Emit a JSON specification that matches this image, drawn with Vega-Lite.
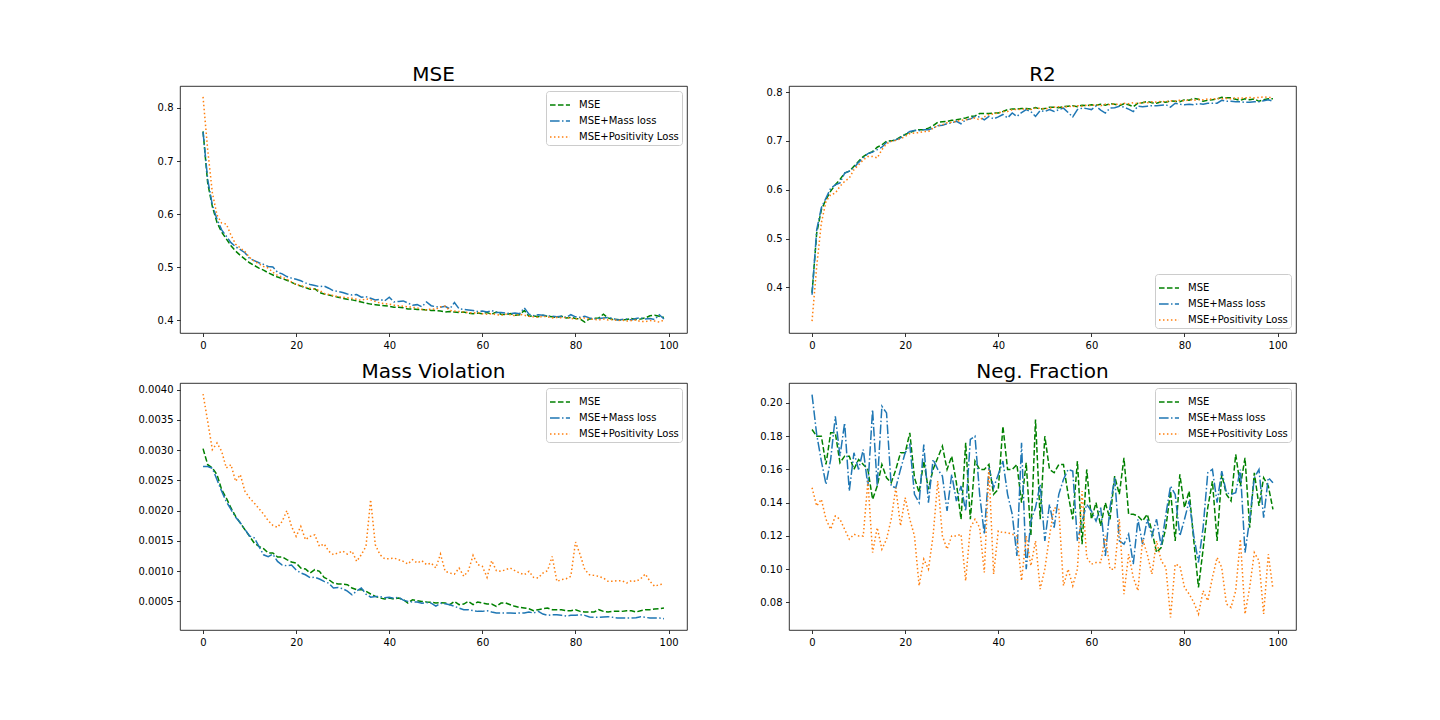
{
  "$schema": "https://vega.github.io/schema/vega-lite/v6.json",
  "background": "white",
  "padding": {"left": 137, "top": 64, "right": 10, "bottom": 10},
  "config": {
    "font": "DejaVu Sans",
    "view": {"stroke": "black", "strokeWidth": 0.8},
    "axis": {"domain": false, "grid": false, "tickColor": "black", "tickSize": 3.5, "tickWidth": 0.8, "labelFont": "DejaVu Sans", "labelFontSize": 10, "labelColor": "black", "labelPadding": 3.5, "labelFlush": false, "labelOverlap": false},
    "title": {"font": "DejaVu Sans", "fontSize": 20, "fontWeight": "normal", "color": "black", "offset": 1, "baseline": "alphabetic", "anchor": "middle"},
    "legend": {"labelFont": "DejaVu Sans", "labelFontSize": 10, "labelColor": "black", "symbolType": "stroke", "symbolSize": 400, "symbolStrokeWidth": 1.5, "labelOffset": 8, "rowPadding": -2, "padding": 3, "fillColor": "white", "strokeColor": "#cccccc", "cornerRadius": 3, "offset": 5}
  },
  "datasets": {
    "mse": [
      {"x":0,"mse":0.756,"mass":0.755,"pos":0.821},{"x":1,"mse":0.658,"mass":0.665,"pos":0.721},{"x":2,"mse":0.614,"mass":0.617,"pos":0.640},{"x":3,"mse":0.584,"mass":0.590,"pos":0.598},{"x":4,"mse":0.566,"mass":0.570,"pos":0.583},
      {"x":5,"mse":0.553,"mass":0.558,"pos":0.581},{"x":6,"mse":0.540,"mass":0.546,"pos":0.560},{"x":7,"mse":0.530,"mass":0.538,"pos":0.543},{"x":8,"mse":0.522,"mass":0.533,"pos":0.536},{"x":9,"mse":0.515,"mass":0.527,"pos":0.529},
      {"x":10,"mse":0.508,"mass":0.516,"pos":0.518},{"x":11,"mse":0.503,"mass":0.512,"pos":0.511},{"x":12,"mse":0.498,"mass":0.508,"pos":0.506},{"x":13,"mse":0.494,"mass":0.505,"pos":0.501},{"x":14,"mse":0.489,"mass":0.501,"pos":0.498},
      {"x":15,"mse":0.485,"mass":0.500,"pos":0.490},{"x":16,"mse":0.481,"mass":0.490,"pos":0.484},{"x":17,"mse":0.478,"mass":0.487,"pos":0.481},{"x":18,"mse":0.475,"mass":0.482,"pos":0.477},{"x":19,"mse":0.471,"mass":0.479,"pos":0.472},
      {"x":20,"mse":0.467,"mass":0.477,"pos":0.467},{"x":21,"mse":0.464,"mass":0.474,"pos":0.465},{"x":22,"mse":0.461,"mass":0.470,"pos":0.462},{"x":23,"mse":0.458,"mass":0.467,"pos":0.460},{"x":24,"mse":0.459,"mass":0.465,"pos":0.458},
      {"x":25,"mse":0.452,"mass":0.463,"pos":0.456},{"x":26,"mse":0.449,"mass":0.464,"pos":0.450},{"x":27,"mse":0.447,"mass":0.460,"pos":0.448},{"x":28,"mse":0.445,"mass":0.455,"pos":0.446},{"x":29,"mse":0.443,"mass":0.454,"pos":0.444},
      {"x":30,"mse":0.441,"mass":0.452,"pos":0.443},{"x":31,"mse":0.439,"mass":0.449,"pos":0.442},{"x":32,"mse":0.438,"mass":0.447,"pos":0.441},{"x":33,"mse":0.436,"mass":0.448,"pos":0.439},{"x":34,"mse":0.434,"mass":0.443,"pos":0.437},
      {"x":35,"mse":0.432,"mass":0.444,"pos":0.440},{"x":36,"mse":0.430,"mass":0.441,"pos":0.438},{"x":37,"mse":0.429,"mass":0.438,"pos":0.435},{"x":38,"mse":0.428,"mass":0.439,"pos":0.432},{"x":39,"mse":0.427,"mass":0.436,"pos":0.431},
      {"x":40,"mse":0.426,"mass":0.443,"pos":0.430},{"x":41,"mse":0.424,"mass":0.434,"pos":0.428},{"x":42,"mse":0.424,"mass":0.435,"pos":0.427},{"x":43,"mse":0.423,"mass":0.436,"pos":0.426},{"x":44,"mse":0.421,"mass":0.432,"pos":0.425},
      {"x":45,"mse":0.421,"mass":0.428,"pos":0.424},{"x":46,"mse":0.420,"mass":0.429,"pos":0.423},{"x":47,"mse":0.420,"mass":0.425,"pos":0.420},{"x":48,"mse":0.419,"mass":0.434,"pos":0.419},{"x":49,"mse":0.418,"mass":0.427,"pos":0.421},
      {"x":50,"mse":0.418,"mass":0.425,"pos":0.420},{"x":51,"mse":0.417,"mass":0.424,"pos":0.425},{"x":52,"mse":0.415,"mass":0.426,"pos":0.426},{"x":53,"mse":0.416,"mass":0.421,"pos":0.418},{"x":54,"mse":0.415,"mass":0.433,"pos":0.417},
      {"x":55,"mse":0.414,"mass":0.421,"pos":0.416},{"x":56,"mse":0.415,"mass":0.420,"pos":0.415},{"x":57,"mse":0.413,"mass":0.419,"pos":0.414},{"x":58,"mse":0.412,"mass":0.418,"pos":0.413},{"x":59,"mse":0.413,"mass":0.416,"pos":0.414},
      {"x":60,"mse":0.412,"mass":0.417,"pos":0.412},{"x":61,"mse":0.414,"mass":0.415,"pos":0.411},{"x":62,"mse":0.411,"mass":0.418,"pos":0.412},{"x":63,"mse":0.415,"mass":0.414,"pos":0.410},{"x":64,"mse":0.411,"mass":0.414,"pos":0.409},
      {"x":65,"mse":0.410,"mass":0.413,"pos":0.411},{"x":66,"mse":0.412,"mass":0.412,"pos":0.410},{"x":67,"mse":0.409,"mass":0.413,"pos":0.408},{"x":68,"mse":0.410,"mass":0.412,"pos":0.411},{"x":69,"mse":0.418,"mass":0.423,"pos":0.409},
      {"x":70,"mse":0.407,"mass":0.411,"pos":0.407},{"x":71,"mse":0.408,"mass":0.408,"pos":0.406},{"x":72,"mse":0.406,"mass":0.410,"pos":0.405},{"x":73,"mse":0.409,"mass":0.409,"pos":0.407},{"x":74,"mse":0.407,"mass":0.408,"pos":0.406},
      {"x":75,"mse":0.406,"mass":0.407,"pos":0.404},{"x":76,"mse":0.405,"mass":0.406,"pos":0.405},{"x":77,"mse":0.407,"mass":0.407,"pos":0.404},{"x":78,"mse":0.404,"mass":0.405,"pos":0.405},{"x":79,"mse":0.405,"mass":0.410,"pos":0.403},
      {"x":80,"mse":0.403,"mass":0.406,"pos":0.402},{"x":81,"mse":0.402,"mass":0.405,"pos":0.403},{"x":82,"mse":0.396,"mass":0.407,"pos":0.404},{"x":83,"mse":0.402,"mass":0.404,"pos":0.402},{"x":84,"mse":0.403,"mass":0.402,"pos":0.401},
      {"x":85,"mse":0.404,"mass":0.403,"pos":0.400},{"x":86,"mse":0.411,"mass":0.404,"pos":0.402},{"x":87,"mse":0.404,"mass":0.405,"pos":0.400},{"x":88,"mse":0.401,"mass":0.403,"pos":0.401},{"x":89,"mse":0.401,"mass":0.400,"pos":0.399},
      {"x":90,"mse":0.400,"mass":0.401,"pos":0.400},{"x":91,"mse":0.401,"mass":0.402,"pos":0.398},{"x":92,"mse":0.403,"mass":0.400,"pos":0.399},{"x":93,"mse":0.401,"mass":0.403,"pos":0.400},{"x":94,"mse":0.402,"mass":0.404,"pos":0.397},
      {"x":95,"mse":0.404,"mass":0.402,"pos":0.397},{"x":96,"mse":0.408,"mass":0.403,"pos":0.399},{"x":97,"mse":0.409,"mass":0.401,"pos":0.398},{"x":98,"mse":0.407,"mass":0.410,"pos":0.396},{"x":99,"mse":0.405,"mass":0.402,"pos":0.400}
    ],
    "r2": [
      {"x":0,"mse":0.389,"mass":0.385,"pos":0.331},{"x":1,"mse":0.511,"mass":0.518,"pos":0.443},{"x":2,"mse":0.559,"mass":0.563,"pos":0.532},{"x":3,"mse":0.580,"mass":0.583,"pos":0.576},{"x":4,"mse":0.597,"mass":0.603,"pos":0.590},
      {"x":5,"mse":0.610,"mass":0.610,"pos":0.593},{"x":6,"mse":0.621,"mass":0.614,"pos":0.607},{"x":7,"mse":0.634,"mass":0.634,"pos":0.617},{"x":8,"mse":0.638,"mass":0.638,"pos":0.624},{"x":9,"mse":0.648,"mass":0.645,"pos":0.641},
      {"x":10,"mse":0.658,"mass":0.656,"pos":0.651},{"x":11,"mse":0.668,"mass":0.665,"pos":0.661},{"x":12,"mse":0.674,"mass":0.674,"pos":0.668},{"x":13,"mse":0.678,"mass":0.677,"pos":0.668},{"x":14,"mse":0.687,"mass":0.682,"pos":0.665},
      {"x":15,"mse":0.692,"mass":0.687,"pos":0.682},{"x":16,"mse":0.699,"mass":0.697,"pos":0.694},{"x":17,"mse":0.700,"mass":0.699,"pos":0.699},{"x":18,"mse":0.702,"mass":0.702,"pos":0.701},{"x":19,"mse":0.708,"mass":0.706,"pos":0.704},
      {"x":20,"mse":0.713,"mass":0.713,"pos":0.709},{"x":21,"mse":0.717,"mass":0.719,"pos":0.715},{"x":22,"mse":0.721,"mass":0.721,"pos":0.716},{"x":23,"mse":0.723,"mass":0.721,"pos":0.717},{"x":24,"mse":0.723,"mass":0.723,"pos":0.719},
      {"x":25,"mse":0.726,"mass":0.723,"pos":0.719},{"x":26,"mse":0.731,"mass":0.726,"pos":0.726},{"x":27,"mse":0.738,"mass":0.731,"pos":0.731},{"x":28,"mse":0.739,"mass":0.732,"pos":0.733},{"x":29,"mse":0.740,"mass":0.735,"pos":0.737},
      {"x":30,"mse":0.742,"mass":0.737,"pos":0.738},{"x":31,"mse":0.743,"mass":0.740,"pos":0.740},{"x":32,"mse":0.745,"mass":0.735,"pos":0.742},{"x":33,"mse":0.747,"mass":0.743,"pos":0.743},{"x":34,"mse":0.750,"mass":0.745,"pos":0.745},
      {"x":35,"mse":0.751,"mass":0.750,"pos":0.747},{"x":36,"mse":0.756,"mass":0.749,"pos":0.743},{"x":37,"mse":0.756,"mass":0.743,"pos":0.749},{"x":38,"mse":0.756,"mass":0.750,"pos":0.754},{"x":39,"mse":0.757,"mass":0.745,"pos":0.755},
      {"x":40,"mse":0.757,"mass":0.749,"pos":0.757},{"x":41,"mse":0.760,"mass":0.754,"pos":0.760},{"x":42,"mse":0.764,"mass":0.747,"pos":0.760},{"x":43,"mse":0.765,"mass":0.757,"pos":0.764},{"x":44,"mse":0.765,"mass":0.750,"pos":0.764},
      {"x":45,"mse":0.766,"mass":0.758,"pos":0.765},{"x":46,"mse":0.766,"mass":0.764,"pos":0.765},{"x":47,"mse":0.765,"mass":0.760,"pos":0.764},{"x":48,"mse":0.768,"mass":0.750,"pos":0.767},{"x":49,"mse":0.765,"mass":0.762,"pos":0.767},
      {"x":50,"mse":0.766,"mass":0.760,"pos":0.765},{"x":51,"mse":0.769,"mass":0.764,"pos":0.767},{"x":52,"mse":0.769,"mass":0.760,"pos":0.769},{"x":53,"mse":0.768,"mass":0.764,"pos":0.770},{"x":54,"mse":0.770,"mass":0.767,"pos":0.768},
      {"x":55,"mse":0.771,"mass":0.758,"pos":0.771},{"x":56,"mse":0.772,"mass":0.749,"pos":0.770},{"x":57,"mse":0.770,"mass":0.764,"pos":0.772},{"x":58,"mse":0.773,"mass":0.767,"pos":0.771},{"x":59,"mse":0.772,"mass":0.766,"pos":0.773},
      {"x":60,"mse":0.774,"mass":0.764,"pos":0.772},{"x":61,"mse":0.773,"mass":0.771,"pos":0.774},{"x":62,"mse":0.775,"mass":0.763,"pos":0.772},{"x":63,"mse":0.773,"mass":0.757,"pos":0.775},{"x":64,"mse":0.776,"mass":0.767,"pos":0.774},
      {"x":65,"mse":0.775,"mass":0.768,"pos":0.776},{"x":66,"mse":0.772,"mass":0.771,"pos":0.774},{"x":67,"mse":0.776,"mass":0.769,"pos":0.777},{"x":68,"mse":0.774,"mass":0.765,"pos":0.776},{"x":69,"mse":0.770,"mass":0.760,"pos":0.778},
      {"x":70,"mse":0.777,"mass":0.771,"pos":0.776},{"x":71,"mse":0.778,"mass":0.770,"pos":0.779},{"x":72,"mse":0.781,"mass":0.771,"pos":0.778},{"x":73,"mse":0.778,"mass":0.772,"pos":0.780},{"x":74,"mse":0.777,"mass":0.772,"pos":0.779},
      {"x":75,"mse":0.780,"mass":0.773,"pos":0.781},{"x":76,"mse":0.779,"mass":0.774,"pos":0.780},{"x":77,"mse":0.782,"mass":0.769,"pos":0.782},{"x":78,"mse":0.781,"mass":0.777,"pos":0.781},{"x":79,"mse":0.780,"mass":0.775,"pos":0.783},
      {"x":80,"mse":0.784,"mass":0.774,"pos":0.782},{"x":81,"mse":0.783,"mass":0.775,"pos":0.784},{"x":82,"mse":0.787,"mass":0.774,"pos":0.783},{"x":83,"mse":0.785,"mass":0.776,"pos":0.785},{"x":84,"mse":0.781,"mass":0.775,"pos":0.784},
      {"x":85,"mse":0.783,"mass":0.777,"pos":0.786},{"x":86,"mse":0.784,"mass":0.777,"pos":0.785},{"x":87,"mse":0.786,"mass":0.777,"pos":0.787},{"x":88,"mse":0.789,"mass":0.783,"pos":0.786},{"x":89,"mse":0.788,"mass":0.781,"pos":0.787},
      {"x":90,"mse":0.788,"mass":0.781,"pos":0.786},{"x":91,"mse":0.785,"mass":0.780,"pos":0.788},{"x":92,"mse":0.783,"mass":0.780,"pos":0.787},{"x":93,"mse":0.786,"mass":0.779,"pos":0.788},{"x":94,"mse":0.784,"mass":0.779,"pos":0.789},
      {"x":95,"mse":0.786,"mass":0.780,"pos":0.788},{"x":96,"mse":0.781,"mass":0.780,"pos":0.789},{"x":97,"mse":0.784,"mass":0.782,"pos":0.790},{"x":98,"mse":0.786,"mass":0.784,"pos":0.789},{"x":99,"mse":0.786,"mass":0.781,"pos":0.789}
    ],
    "massv": [
      {"x":0,"mse":0.003025,"mass":0.00273,"pos":0.003928},{"x":1,"mse":0.00276,"mass":0.00273,"pos":0.003476},{"x":2,"mse":0.002705,"mass":0.0027,"pos":0.003008},{"x":3,"mse":0.002595,"mass":0.00251,"pos":0.003118},{"x":4,"mse":0.002347,"mass":0.00232,"pos":0.00298},
      {"x":5,"mse":0.002209,"mass":0.00215,"pos":0.002705},{"x":6,"mse":0.002044,"mass":0.00202,"pos":0.00276},{"x":7,"mse":0.001906,"mass":0.00189,"pos":0.002484},{"x":8,"mse":0.001796,"mass":0.0018,"pos":0.002595},{"x":9,"mse":0.001685,"mass":0.00169,"pos":0.002319},
      {"x":10,"mse":0.001575,"mass":0.00158,"pos":0.002209},{"x":11,"mse":0.001465,"mass":0.00155,"pos":0.002126},{"x":12,"mse":0.00141,"mass":0.00141,"pos":0.002033},{"x":13,"mse":0.001371,"mass":0.00127,"pos":0.001944},{"x":14,"mse":0.0013,"mass":0.00124,"pos":0.001834},
      {"x":15,"mse":0.0013,"mass":0.00128,"pos":0.001757},{"x":16,"mse":0.001234,"mass":0.00116,"pos":0.001724},{"x":17,"mse":0.001234,"mass":0.0011,"pos":0.001823},{"x":18,"mse":0.00119,"mass":0.00109,"pos":0.002},{"x":19,"mse":0.001151,"mass":0.0011,"pos":0.00174},
      {"x":20,"mse":0.001134,"mass":0.00102,"pos":0.001575},{"x":21,"mse":0.001052,"mass":0.00097,"pos":0.00174},{"x":22,"mse":0.001035,"mass":0.00094,"pos":0.00152},{"x":23,"mse":0.000969,"mass":0.00089,"pos":0.001575},{"x":24,"mse":0.001024,"mass":0.0009,"pos":0.0016},
      {"x":25,"mse":0.000997,"mass":0.00087,"pos":0.00141},{"x":26,"mse":0.000897,"mass":0.00083,"pos":0.00145},{"x":27,"mse":0.000859,"mass":0.0008,"pos":0.00133},{"x":28,"mse":0.000804,"mass":0.00072,"pos":0.001272},{"x":29,"mse":0.000787,"mass":0.00073,"pos":0.0013},
      {"x":30,"mse":0.000787,"mass":0.00071,"pos":0.00133},{"x":31,"mse":0.000776,"mass":0.00067,"pos":0.001283},{"x":32,"mse":0.000721,"mass":0.00061,"pos":0.00133},{"x":33,"mse":0.000694,"mass":0.00067,"pos":0.001162},{"x":34,"mse":0.000694,"mass":0.00072,"pos":0.001272},
      {"x":35,"mse":0.000666,"mass":0.00062,"pos":0.00141},{"x":36,"mse":0.000622,"mass":0.00057,"pos":0.002181},{"x":37,"mse":0.000583,"mass":0.00058,"pos":0.001437},{"x":38,"mse":0.000556,"mass":0.00058,"pos":0.001272},{"x":39,"mse":0.00054,"mass":0.00056,"pos":0.001206},
      {"x":40,"mse":0.000556,"mass":0.00057,"pos":0.001206},{"x":41,"mse":0.00054,"mass":0.00055,"pos":0.001217},{"x":42,"mse":0.000556,"mass":0.00057,"pos":0.00119},{"x":43,"mse":0.000528,"mass":0.00052,"pos":0.001162},{"x":44,"mse":0.000473,"mass":0.0005,"pos":0.001118},
      {"x":45,"mse":0.000528,"mass":0.00049,"pos":0.00119},{"x":46,"mse":0.000512,"mass":0.00049,"pos":0.001134},{"x":47,"mse":0.0005,"mass":0.00047,"pos":0.001173},{"x":48,"mse":0.00049,"mass":0.00048,"pos":0.001107},{"x":49,"mse":0.000485,"mass":0.00047,"pos":0.001134},
      {"x":50,"mse":0.000473,"mass":0.00042,"pos":0.001052},{"x":51,"mse":0.00048,"mass":0.00047,"pos":0.001283},{"x":52,"mse":0.000473,"mass":0.00046,"pos":0.000997},{"x":53,"mse":0.000445,"mass":0.000445,"pos":0.000969},{"x":54,"mse":0.0005,"mass":0.000418,"pos":0.000952},
      {"x":55,"mse":0.000445,"mass":0.00039,"pos":0.001052},{"x":56,"mse":0.000456,"mass":0.000363,"pos":0.000914},{"x":57,"mse":0.0005,"mass":0.000363,"pos":0.001008},{"x":58,"mse":0.000445,"mass":0.000346,"pos":0.001261},{"x":59,"mse":0.00049,"mass":0.000335,"pos":0.001107},
      {"x":60,"mse":0.000473,"mass":0.000335,"pos":0.001079},{"x":61,"mse":0.000456,"mass":0.000346,"pos":0.000897},{"x":62,"mse":0.000456,"mass":0.000324,"pos":0.001173},{"x":63,"mse":0.000418,"mass":0.000308,"pos":0.001008},{"x":64,"mse":0.000473,"mass":0.000308,"pos":0.000997},
      {"x":65,"mse":0.000473,"mass":0.000308,"pos":0.001024},{"x":66,"mse":0.000445,"mass":0.000308,"pos":0.001052},{"x":67,"mse":0.000418,"mass":0.000302,"pos":0.001008},{"x":68,"mse":0.000401,"mass":0.000308,"pos":0.000969},{"x":69,"mse":0.00039,"mass":0.000308,"pos":0.000941},
      {"x":70,"mse":0.000379,"mass":0.000324,"pos":0.000997},{"x":71,"mse":0.000346,"mass":0.000308,"pos":0.000897},{"x":72,"mse":0.000363,"mass":0.000335,"pos":0.000886},{"x":73,"mse":0.000379,"mass":0.00029,"pos":0.000969},{"x":74,"mse":0.00039,"mass":0.000269,"pos":0.001008},
      {"x":75,"mse":0.000363,"mass":0.00028,"pos":0.001244},{"x":76,"mse":0.000363,"mass":0.00028,"pos":0.000831},{"x":77,"mse":0.000363,"mass":0.000269,"pos":0.000859},{"x":78,"mse":0.000346,"mass":0.000258,"pos":0.000875},{"x":79,"mse":0.000346,"mass":0.000269,"pos":0.000914},
      {"x":80,"mse":0.000363,"mass":0.000269,"pos":0.001482},{"x":81,"mse":0.000335,"mass":0.00028,"pos":0.001272},{"x":82,"mse":0.000324,"mass":0.000269,"pos":0.001024},{"x":83,"mse":0.000324,"mass":0.000242,"pos":0.000941},{"x":84,"mse":0.000324,"mass":0.000236,"pos":0.00093},
      {"x":85,"mse":0.000363,"mass":0.000236,"pos":0.000914},{"x":86,"mse":0.000335,"mass":0.000242,"pos":0.000886},{"x":87,"mse":0.000324,"mass":0.000247,"pos":0.000831},{"x":88,"mse":0.000335,"mass":0.000236,"pos":0.000831},{"x":89,"mse":0.000335,"mass":0.000225,"pos":0.000842},
      {"x":90,"mse":0.000335,"mass":0.000225,"pos":0.000842},{"x":91,"mse":0.000346,"mass":0.000225,"pos":0.000804},{"x":92,"mse":0.000346,"mass":0.000225,"pos":0.000842},{"x":93,"mse":0.000324,"mass":0.00023,"pos":0.000831},{"x":94,"mse":0.000346,"mass":0.000247,"pos":0.000875},
      {"x":95,"mse":0.000363,"mass":0.000236,"pos":0.000953},{"x":96,"mse":0.000363,"mass":0.000225,"pos":0.000831},{"x":97,"mse":0.000374,"mass":0.000225,"pos":0.000749},{"x":98,"mse":0.00038,"mass":0.000225,"pos":0.000776},{"x":99,"mse":0.00039,"mass":0.000214,"pos":0.000787}
    ],
    "neg": [
      {"x":0,"mse":0.184,"mass":0.205,"pos":0.149},{"x":1,"mse":0.180,"mass":0.181,"pos":0.138},{"x":2,"mse":0.180,"mass":0.165,"pos":0.142},{"x":3,"mse":0.163,"mass":0.151,"pos":0.130},{"x":4,"mse":0.182,"mass":0.166,"pos":0.124},
      {"x":5,"mse":0.182,"mass":0.192,"pos":0.132},{"x":6,"mse":0.164,"mass":0.168,"pos":0.130},{"x":7,"mse":0.168,"mass":0.188,"pos":0.124},{"x":8,"mse":0.168,"mass":0.147,"pos":0.118},{"x":9,"mse":0.160,"mass":0.170,"pos":0.121},
      {"x":10,"mse":0.166,"mass":0.160,"pos":0.120},{"x":11,"mse":0.163,"mass":0.172,"pos":0.120},{"x":12,"mse":0.160,"mass":0.150,"pos":0.153},{"x":13,"mse":0.142,"mass":0.196,"pos":0.110},{"x":14,"mse":0.150,"mass":0.150,"pos":0.125},
      {"x":15,"mse":0.163,"mass":0.198,"pos":0.112},{"x":16,"mse":0.155,"mass":0.194,"pos":0.118},{"x":17,"mse":0.152,"mass":0.150,"pos":0.130},{"x":18,"mse":0.160,"mass":0.149,"pos":0.149},{"x":19,"mse":0.170,"mass":0.160,"pos":0.126},
      {"x":20,"mse":0.170,"mass":0.170,"pos":0.143},{"x":21,"mse":0.182,"mass":0.175,"pos":0.130},{"x":22,"mse":0.155,"mass":0.145,"pos":0.120},{"x":23,"mse":0.146,"mass":0.140,"pos":0.090},{"x":24,"mse":0.165,"mass":0.175,"pos":0.106},
      {"x":25,"mse":0.148,"mass":0.140,"pos":0.100},{"x":26,"mse":0.160,"mass":0.166,"pos":0.120},{"x":27,"mse":0.167,"mass":0.160,"pos":0.153},{"x":28,"mse":0.174,"mass":0.156,"pos":0.120},{"x":29,"mse":0.160,"mass":0.135,"pos":0.112},
      {"x":30,"mse":0.168,"mass":0.157,"pos":0.120},{"x":31,"mse":0.152,"mass":0.141,"pos":0.120},{"x":32,"mse":0.130,"mass":0.150,"pos":0.121},{"x":33,"mse":0.176,"mass":0.135,"pos":0.093},{"x":34,"mse":0.130,"mass":0.178,"pos":0.125},
      {"x":35,"mse":0.165,"mass":0.180,"pos":0.130},{"x":36,"mse":0.160,"mass":0.145,"pos":0.125},{"x":37,"mse":0.160,"mass":0.121,"pos":0.098},{"x":38,"mse":0.163,"mass":0.161,"pos":0.160},{"x":39,"mse":0.145,"mass":0.149,"pos":0.097},
      {"x":40,"mse":0.148,"mass":0.157,"pos":0.123},{"x":41,"mse":0.186,"mass":0.165,"pos":0.122},{"x":42,"mse":0.160,"mass":0.145,"pos":0.122},{"x":43,"mse":0.160,"mass":0.133,"pos":0.121},{"x":44,"mse":0.163,"mass":0.108,"pos":0.120},
      {"x":45,"mse":0.140,"mass":0.176,"pos":0.093},{"x":46,"mse":0.164,"mass":0.100,"pos":0.120},{"x":47,"mse":0.120,"mass":0.129,"pos":0.102},{"x":48,"mse":0.190,"mass":0.137,"pos":0.117},{"x":49,"mse":0.130,"mass":0.151,"pos":0.088},
      {"x":50,"mse":0.180,"mass":0.117,"pos":0.100},{"x":51,"mse":0.160,"mass":0.139,"pos":0.120},{"x":52,"mse":0.158,"mass":0.125,"pos":0.137},{"x":53,"mse":0.163,"mass":0.145,"pos":0.136},{"x":54,"mse":0.163,"mass":0.154,"pos":0.090},
      {"x":55,"mse":0.145,"mass":0.160,"pos":0.100},{"x":56,"mse":0.130,"mass":0.159,"pos":0.090},{"x":57,"mse":0.165,"mass":0.117,"pos":0.100},{"x":58,"mse":0.115,"mass":0.129,"pos":0.147},{"x":59,"mse":0.160,"mass":0.139,"pos":0.107},
      {"x":60,"mse":0.130,"mass":0.135,"pos":0.103},{"x":61,"mse":0.140,"mass":0.129,"pos":0.104},{"x":62,"mse":0.126,"mass":0.137,"pos":0.104},{"x":63,"mse":0.140,"mass":0.108,"pos":0.120},{"x":64,"mse":0.130,"mass":0.137,"pos":0.100},
      {"x":65,"mse":0.156,"mass":0.155,"pos":0.100},{"x":66,"mse":0.145,"mass":0.117,"pos":0.130},{"x":67,"mse":0.167,"mass":0.115,"pos":0.085},{"x":68,"mse":0.133,"mass":0.121,"pos":0.109},{"x":69,"mse":0.133,"mass":0.103,"pos":0.095},
      {"x":70,"mse":0.132,"mass":0.130,"pos":0.087},{"x":71,"mse":0.129,"mass":0.115,"pos":0.118},{"x":72,"mse":0.133,"mass":0.130,"pos":0.109},{"x":73,"mse":0.123,"mass":0.120,"pos":0.097},{"x":74,"mse":0.110,"mass":0.130,"pos":0.117},
      {"x":75,"mse":0.113,"mass":0.114,"pos":0.105},{"x":76,"mse":0.125,"mass":0.133,"pos":0.101},{"x":77,"mse":0.147,"mass":0.150,"pos":0.071},{"x":78,"mse":0.117,"mass":0.145,"pos":0.103},{"x":79,"mse":0.157,"mass":0.120,"pos":0.102},
      {"x":80,"mse":0.137,"mass":0.130,"pos":0.089},{"x":81,"mse":0.147,"mass":0.141,"pos":0.085},{"x":82,"mse":0.117,"mass":0.120,"pos":0.080},{"x":83,"mse":0.089,"mass":0.104,"pos":0.073},{"x":84,"mse":0.112,"mass":0.125,"pos":0.087},
      {"x":85,"mse":0.137,"mass":0.158,"pos":0.081},{"x":86,"mse":0.153,"mass":0.160,"pos":0.095},{"x":87,"mse":0.117,"mass":0.140,"pos":0.107},{"x":88,"mse":0.157,"mass":0.159,"pos":0.101},{"x":89,"mse":0.145,"mass":0.146,"pos":0.079},
      {"x":90,"mse":0.141,"mass":0.145,"pos":0.077},{"x":91,"mse":0.169,"mass":0.146,"pos":0.087},{"x":92,"mse":0.150,"mass":0.160,"pos":0.118},{"x":93,"mse":0.167,"mass":0.110,"pos":0.073},{"x":94,"mse":0.125,"mass":0.130,"pos":0.089},
      {"x":95,"mse":0.158,"mass":0.155,"pos":0.110},{"x":96,"mse":0.138,"mass":0.160,"pos":0.105},{"x":97,"mse":0.155,"mass":0.131,"pos":0.073},{"x":98,"mse":0.150,"mass":0.155,"pos":0.109},{"x":99,"mse":0.136,"mass":0.152,"pos":0.088}
    ]
  },
  "bounds": "flush",
  "columns": 2,
  "spacing": {"row": 50, "column": 102},
  "resolve": {
    "scale": {"x": "independent", "y": "independent", "color": "independent", "strokeDash": "independent"},
    "legend": {"color": "independent", "strokeDash": "independent"}
  },
  "concat": [
    {
      "title": "MSE",
      "width": 507, "height": 247,
      "data": {"name": "mse"},
      "transform": [{"fold": ["mse", "mass", "pos"], "as": ["series", "value"]}],
      "mark": {"type": "line", "strokeWidth": 1.5},
      "encoding": {
        "x": {"field": "x", "type": "quantitative", "scale": {"domain": [-4.95, 103.95], "nice": false, "zero": false}, "axis": {"values": [0, 20, 40, 60, 80, 100], "title": null}},
        "y": {"field": "value", "type": "quantitative", "scale": {"domain": [0.3755, 0.8415], "nice": false, "zero": false}, "axis": {"values": [0.4, 0.5, 0.6, 0.7, 0.8], "format": ".1f", "title": null}},
        "color": {"field": "series", "type": "nominal", "scale": {"domain": ["mse", "mass", "pos"], "range": ["#008000", "#1f77b4", "#ff7f0e"]}, "legend": {"title": null, "orient": "top-right", "labelExpr": "{'mse': 'MSE', 'mass': 'MSE+Mass loss', 'pos': 'MSE+Positivity Loss'}[datum.label]"}},
        "strokeDash": {"field": "series", "type": "nominal", "scale": {"domain": ["mse", "mass", "pos"], "range": [[5.55, 2.4], [9.6, 2.4, 1.5, 2.4], [1.5, 2.475]]}, "legend": {"title": null, "orient": "top-right", "labelExpr": "{'mse': 'MSE', 'mass': 'MSE+Mass loss', 'pos': 'MSE+Positivity Loss'}[datum.label]"}}
      }
    },
    {
      "title": "R2",
      "width": 507, "height": 247,
      "data": {"name": "r2"},
      "transform": [{"fold": ["mse", "mass", "pos"], "as": ["series", "value"]}],
      "mark": {"type": "line", "strokeWidth": 1.5},
      "encoding": {
        "x": {"field": "x", "type": "quantitative", "scale": {"domain": [-4.95, 103.95], "nice": false, "zero": false}, "axis": {"values": [0, 20, 40, 60, 80, 100], "title": null}},
        "y": {"field": "value", "type": "quantitative", "scale": {"domain": [0.3067, 0.8123], "nice": false, "zero": false}, "axis": {"values": [0.4, 0.5, 0.6, 0.7, 0.8], "format": ".1f", "title": null}},
        "color": {"field": "series", "type": "nominal", "scale": {"domain": ["mse", "mass", "pos"], "range": ["#008000", "#1f77b4", "#ff7f0e"]}, "legend": {"title": null, "orient": "bottom-right", "labelExpr": "{'mse': 'MSE', 'mass': 'MSE+Mass loss', 'pos': 'MSE+Positivity Loss'}[datum.label]"}},
        "strokeDash": {"field": "series", "type": "nominal", "scale": {"domain": ["mse", "mass", "pos"], "range": [[5.55, 2.4], [9.6, 2.4, 1.5, 2.4], [1.5, 2.475]]}, "legend": {"title": null, "orient": "bottom-right", "labelExpr": "{'mse': 'MSE', 'mass': 'MSE+Mass loss', 'pos': 'MSE+Positivity Loss'}[datum.label]"}}
      }
    },
    {
      "title": "Mass Violation",
      "width": 507, "height": 247,
      "data": {"name": "massv"},
      "transform": [{"fold": ["mse", "mass", "pos"], "as": ["series", "value"]}],
      "mark": {"type": "line", "strokeWidth": 1.5},
      "encoding": {
        "x": {"field": "x", "type": "quantitative", "scale": {"domain": [-4.95, 103.95], "nice": false, "zero": false}, "axis": {"values": [0, 20, 40, 60, 80, 100], "title": null}},
        "y": {"field": "value", "type": "quantitative", "scale": {"domain": [0.000027, 0.00411], "nice": false, "zero": false}, "axis": {"values": [0.0005, 0.001, 0.0015, 0.002, 0.0025, 0.003, 0.0035, 0.004], "format": ".4f", "title": null}},
        "color": {"field": "series", "type": "nominal", "scale": {"domain": ["mse", "mass", "pos"], "range": ["#008000", "#1f77b4", "#ff7f0e"]}, "legend": {"title": null, "orient": "top-right", "labelExpr": "{'mse': 'MSE', 'mass': 'MSE+Mass loss', 'pos': 'MSE+Positivity Loss'}[datum.label]"}},
        "strokeDash": {"field": "series", "type": "nominal", "scale": {"domain": ["mse", "mass", "pos"], "range": [[5.55, 2.4], [9.6, 2.4, 1.5, 2.4], [1.5, 2.475]]}, "legend": {"title": null, "orient": "top-right", "labelExpr": "{'mse': 'MSE', 'mass': 'MSE+Mass loss', 'pos': 'MSE+Positivity Loss'}[datum.label]"}}
      }
    },
    {
      "title": "Neg. Fraction",
      "width": 507, "height": 247,
      "data": {"name": "neg"},
      "transform": [{"fold": ["mse", "mass", "pos"], "as": ["series", "value"]}],
      "mark": {"type": "line", "strokeWidth": 1.5},
      "encoding": {
        "x": {"field": "x", "type": "quantitative", "scale": {"domain": [-4.95, 103.95], "nice": false, "zero": false}, "axis": {"values": [0, 20, 40, 60, 80, 100], "title": null}},
        "y": {"field": "value", "type": "quantitative", "scale": {"domain": [0.0634, 0.212], "nice": false, "zero": false}, "axis": {"values": [0.08, 0.1, 0.12, 0.14, 0.16, 0.18, 0.2], "format": ".2f", "title": null}},
        "color": {"field": "series", "type": "nominal", "scale": {"domain": ["mse", "mass", "pos"], "range": ["#008000", "#1f77b4", "#ff7f0e"]}, "legend": {"title": null, "orient": "top-right", "labelExpr": "{'mse': 'MSE', 'mass': 'MSE+Mass loss', 'pos': 'MSE+Positivity Loss'}[datum.label]"}},
        "strokeDash": {"field": "series", "type": "nominal", "scale": {"domain": ["mse", "mass", "pos"], "range": [[5.55, 2.4], [9.6, 2.4, 1.5, 2.4], [1.5, 2.475]]}, "legend": {"title": null, "orient": "top-right", "labelExpr": "{'mse': 'MSE', 'mass': 'MSE+Mass loss', 'pos': 'MSE+Positivity Loss'}[datum.label]"}}
      }
    }
  ]
}
